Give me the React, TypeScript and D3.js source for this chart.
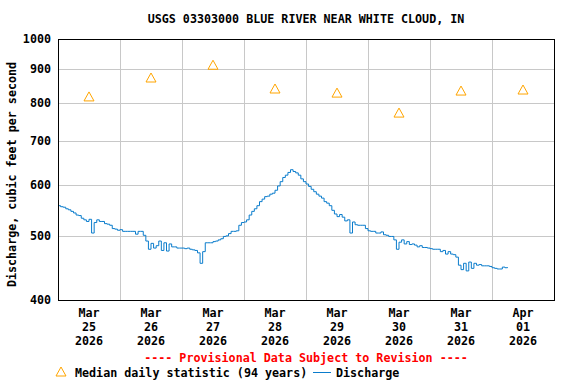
import React from "react";
import * as d3 from "d3";

const title = "USGS 03303000 BLUE RIVER NEAR WHITE CLOUD, IN";
const yLabel = "Discharge, cubic feet per second";
const provisional = "---- Provisional Data Subject to Revision ----";
const medianLabel = "Median daily statistic (94 years)";
const dischargeLabel = "Discharge";

const yTicks = [400, 500, 600, 700, 800, 900, 1000];

// midnight gridlines, first and last are the plot edges
const dayStarts = [
  "2026-03-25", "2026-03-26", "2026-03-27", "2026-03-28", "2026-03-29",
  "2026-03-30", "2026-03-31", "2026-04-01", "2026-04-02",
];

const tickMonths = ["Mar", "Mar", "Mar", "Mar", "Mar", "Mar", "Mar", "Apr"];
const tickDays = ["25", "26", "27", "28", "29", "30", "31", "01"];
const tickYears = ["2026", "2026", "2026", "2026", "2026", "2026", "2026", "2026"];

const medianValues = [816, 872, 912, 839, 827, 771, 833, 836];

const dischargeStart = "2026-03-25T00:00:00Z";
// hourly discharge, cfs
const dischargeHourly = [
  // Mar 25
  557, 555, 554, 551, 549, 546, 543, 539, 538, 533, 530, 527,
  531, 506, 525, 530, 527, 527, 523, 522, 520, 514, 513, 511,
  // Mar 26
  512, 509, 509, 509, 509, 509, 504, 509, 509, 502, 492, 478,
  488, 480, 484, 492, 476, 489, 475, 487, 482, 482, 480, 480,
  // Mar 27
  480, 479, 480, 478, 477, 476, 472, 455, 474, 489, 489, 489,
  491, 492, 494, 496, 500, 501, 505, 509, 509, 510, 520, 525,
  // Mar 28
  526, 530, 539, 546, 551, 557, 565, 570, 575, 576, 580, 582,
  588, 597, 606, 615, 620, 626, 632, 628, 625, 620, 612, 606,
  // Mar 29
  601, 596, 590, 585, 580, 576, 572, 565, 562, 557, 548, 541,
  536, 540, 535, 528, 530, 506, 526, 521, 520, 520, 520, 514,
  // Mar 30
  510, 509, 509, 506, 506, 508, 503, 502, 500, 500, 494, 478,
  490, 494, 487, 491, 486, 487, 485, 482, 484, 481, 481, 480,
  // Mar 31
  479, 478, 478, 478, 474, 476, 470, 474, 470, 469, 465, 452,
  445, 455, 443, 457, 447, 455, 452, 453, 451, 451, 451, 450,
  // Apr 1
  448, 447, 446, 446, 449, 448, 449,
];

const W = 576;
const H = 384;
const left = 58;
const right = 554;
const top = 39;
const bottom = 300;

const FONT = "'DejaVu Sans Mono', monospace";
const BLUE = "#0a7ccc";
const ORANGE = "#ffa500";

export default function App() {
  const days = dayStarts.map((d) => new Date(d + "T00:00:00Z"));
  const x = d3.scaleUtc().domain([days[0], days[days.length - 1]]).range([left, right]);
  const y = d3.scaleLog().domain([400, 1000]).range([bottom, top]);

  const t0 = new Date(dischargeStart).getTime();
  const discharge = dischargeHourly.map((v, i) => ({ t: new Date(t0 + i * 3600e3), v }));
  const noon = days.slice(0, 8).map((d) => new Date(d.getTime() + 12 * 3600e3));

  const line = d3
    .line<{ t: Date; v: number }>()
    .x((d) => x(d.t))
    .y((d) => y(d.v))
    .curve(d3.curveStepAfter);

  const tri = (cx: number, cy: number) =>
    `M${cx},${cy - 5}L${cx + 5},${cy + 4}L${cx - 5},${cy + 4}Z`;

  const textStyle = { fontFamily: FONT, fontWeight: "bold" as const, fontSize: 11.7 };

  return (
    <svg
      width={W}
      height={H}
      style={{ position: "absolute", left: 0, top: 0, background: "#fff" }}
    >
      <rect width={W} height={H} fill="#fff" />
      <text x={306} y={23} textAnchor="middle" style={textStyle} fill="#000">
        {title}
      </text>

      {/* grid */}
      <g shapeRendering="crispEdges" stroke="#c8c8c8" strokeWidth={1}>
        {yTicks.slice(1, -1).map((v) => (
          <line key={v} x1={left} x2={right} y1={Math.round(y(v)) + 0.5} y2={Math.round(y(v)) + 0.5} />
        ))}
        {days.slice(1, -1).map((d, i) => (
          <line key={i} x1={Math.round(x(d)) + 0.5} x2={Math.round(x(d)) + 0.5} y1={top} y2={bottom} />
        ))}
      </g>

      {/* discharge */}
      <path d={line(discharge) || ""} fill="none" stroke={BLUE} strokeWidth={1} />

      {/* medians */}
      {medianValues.map((v, i) => (
        <path key={i} d={tri(x(noon[i]), y(v))} fill="none" stroke={ORANGE} strokeWidth={1} />
      ))}

      <rect
        x={left + 0.5}
        y={top + 0.5}
        width={right - left}
        height={bottom - top}
        fill="none"
        stroke="#000"
        strokeWidth={1.3}
        shapeRendering="crispEdges"
      />

      {/* y ticks */}
      {yTicks.map((v) => (
        <text key={v} x={51} y={y(v) + 4} textAnchor="end" style={textStyle} fill="#000">
          {v}
        </text>
      ))}
      <text
        transform={`translate(16,${(top + bottom) / 2 + 5}) rotate(-90)`}
        textAnchor="middle"
        style={textStyle}
        fill="#000"
      >
        {yLabel}
      </text>

      {/* x ticks */}
      {noon.map((d, i) => (
        <g key={i} style={textStyle} fill="#000">
          <text x={x(d)} y={317} textAnchor="middle">{tickMonths[i]}</text>
          <text x={x(d)} y={331} textAnchor="middle">{tickDays[i]}</text>
          <text x={x(d)} y={345} textAnchor="middle">{tickYears[i]}</text>
        </g>
      ))}

      <text x={306} y={362} textAnchor="middle" style={textStyle} fill="#ff0000">
        {provisional}
      </text>

      {/* legend */}
      <path d={tri(61, 372)} fill="none" stroke={ORANGE} strokeWidth={1} />
      <text x={75} y={377} style={textStyle} fill="#000">{medianLabel}</text>
      <line x1={313} x2={331} y1={372.5} y2={372.5} stroke={BLUE} strokeWidth={1} />
      <text x={336} y={377} style={textStyle} fill="#000">{dischargeLabel}</text>
    </svg>
  );
}
